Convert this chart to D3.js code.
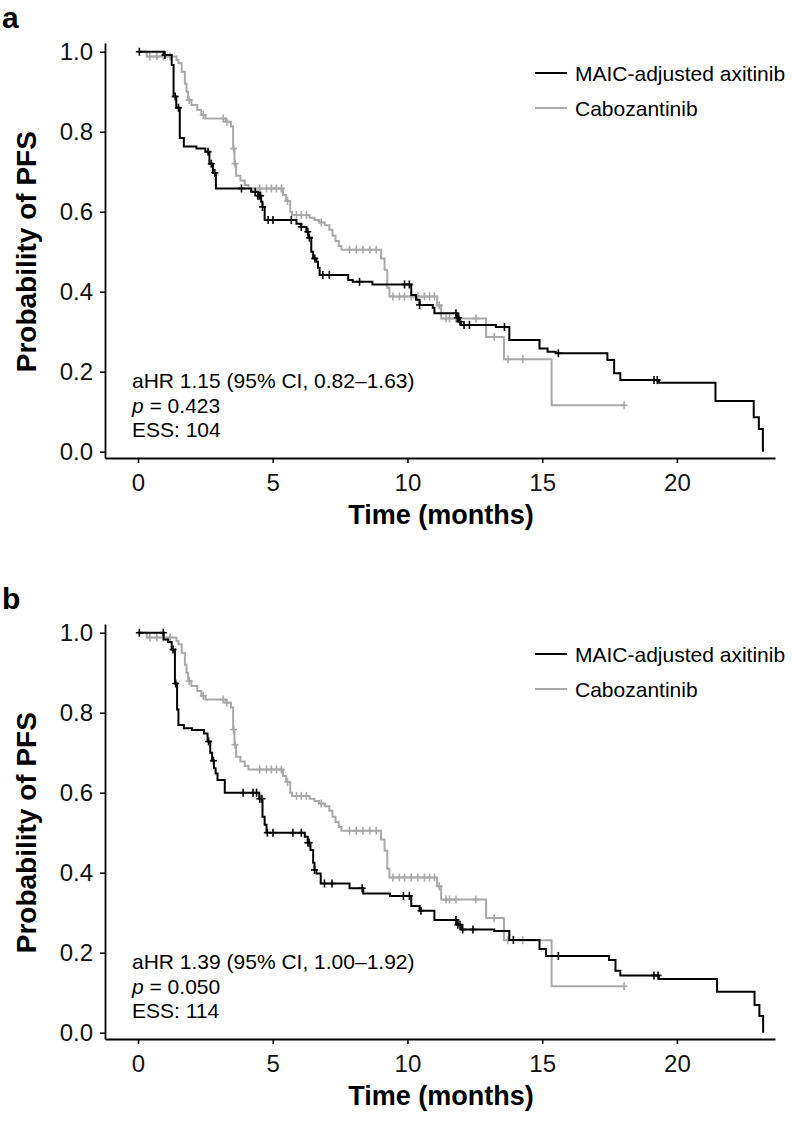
<!DOCTYPE html>
<html>
<head>
<meta charset="utf-8">
<script src="https://cdn.jsdelivr.net/npm/d3@7"></script>
<style>
  body { margin: 0; background: #fff; }
  svg { display: block; font-family: "Liberation Sans", Arial, Helvetica, sans-serif; }
</style>
</head>
<body>
<svg id="chart" width="792" height="1123"></svg>
<script>
// --- Data ---
// Kaplan-Meier steps: [time in months, survival after the step]
const caboSteps = [
  [0, 1.0], [0.32, 0.988], [1.43, 0.979], [1.5, 0.971], [1.62, 0.95], [1.74, 0.92],
  [1.8, 0.9], [1.86, 0.879], [1.98, 0.867], [2.2, 0.854], [2.35, 0.842], [2.5, 0.833],
  [3.25, 0.825], [3.45, 0.813], [3.53, 0.758], [3.58, 0.72], [3.64, 0.69], [3.8, 0.678],
  [3.96, 0.667], [4.1, 0.658], [5.38, 0.642], [5.5, 0.627], [5.65, 0.6], [5.72, 0.592],
  [6.37, 0.585], [6.55, 0.579], [6.72, 0.573], [6.93, 0.566], [7.1, 0.555], [7.22, 0.54],
  [7.33, 0.527], [7.45, 0.514], [7.55, 0.505], [9.02, 0.483], [9.15, 0.455], [9.25, 0.41],
  [9.33, 0.388], [11.1, 0.366], [11.25, 0.333], [12.92, 0.287], [13.58, 0.231], [15.35, 0.116]
];
const caboEnd = 18.04;
const caboCensor = [
  0.44, 0.7, 0.94, 1.19, 1.9, 2.42, 3.16, 3.3, 3.55, 3.6, 4.52, 4.77, 4.95, 5.14, 5.32,
  5.55, 5.88, 6.06, 6.25, 6.8, 7.85, 8.1, 8.35, 8.6, 8.84, 9.46, 9.7, 9.89, 10.14, 10.38,
  10.63, 10.82, 11.0, 11.18, 11.43, 11.56, 11.8, 12.54, 13.22, 13.73, 14.28, 18.04
];

// panel a: MAIC-adjusted axitinib
const axiStepsA = [
  [0, 1.0], [0.95, 0.992], [1.25, 0.967], [1.32, 0.888], [1.42, 0.86], [1.55, 0.784],
  [1.7, 0.763], [2.17, 0.758], [2.5, 0.75], [2.65, 0.72], [2.78, 0.697], [2.89, 0.658],
  [4.2, 0.65], [4.45, 0.64], [4.57, 0.625], [4.62, 0.612], [4.7, 0.579], [5.88, 0.57],
  [6.06, 0.562], [6.25, 0.55], [6.32, 0.535], [6.43, 0.5], [6.5, 0.483], [6.62, 0.475],
  [6.68, 0.46], [6.74, 0.442], [7.8, 0.429], [7.97, 0.425], [8.7, 0.418], [10.14, 0.392],
  [10.32, 0.38], [10.45, 0.367], [10.94, 0.36], [11.0, 0.346], [11.85, 0.335], [11.92, 0.325],
  [11.99, 0.317], [13.28, 0.312], [13.78, 0.279], [14.9, 0.258], [15.2, 0.25], [15.5, 0.246],
  [17.42, 0.229], [17.67, 0.196], [17.9, 0.179], [19.33, 0.1725], [21.43, 0.127],
  [22.85, 0.086], [23.04, 0.057], [23.19, 0]
];
const axiEndA = 23.19;
const axiCensorA = [
  0.05, 1.0, 1.38, 1.5, 2.6, 2.72, 2.85, 3.84, 4.35, 4.45, 4.5, 4.55, 4.62, 4.83, 5.01,
  5.69, 6.06, 6.3, 6.36, 6.56, 6.86, 7.1, 8.22, 9.89, 10.07, 10.45, 11.8, 11.85, 11.9,
  11.95, 12.1, 12.3, 13.6, 15.6, 19.15, 19.27
];

// panel b: MAIC-adjusted axitinib
const axiStepsB = [
  [0, 1.0], [0.95, 0.983], [1.12, 0.977], [1.25, 0.958], [1.37, 0.873], [1.45, 0.808],
  [1.5, 0.769], [1.7, 0.761], [2.0, 0.757], [2.45, 0.748], [2.58, 0.728], [2.68, 0.7],
  [2.75, 0.68], [2.82, 0.661], [2.88, 0.648], [2.95, 0.632], [3.22, 0.6], [4.5, 0.585],
  [4.62, 0.54], [4.7, 0.52], [4.77, 0.5], [6.19, 0.49], [6.3, 0.475], [6.4, 0.457],
  [6.5, 0.425], [6.55, 0.407], [6.62, 0.398], [6.78, 0.373], [7.85, 0.361], [8.36, 0.348],
  [9.35, 0.342], [10.14, 0.317], [10.45, 0.305], [11.0, 0.282], [11.85, 0.27], [12.0, 0.258],
  [13.22, 0.254], [13.78, 0.232], [14.9, 0.209], [15.14, 0.192], [17.48, 0.182],
  [17.72, 0.155], [17.9, 0.143], [19.33, 0.134], [21.49, 0.1025], [22.88, 0.069],
  [23.06, 0.042], [23.2, 0]
];
const axiEndB = 23.2;
const axiCensorB = [
  0.05, 0.94, 1.3, 1.4, 2.62, 2.8, 3.9, 4.27, 4.4, 4.52, 4.6, 4.8, 5.01, 5.75, 6.06,
  6.3, 6.35, 6.55, 6.92, 7.2, 8.32, 9.85, 10.07, 10.5, 11.8, 11.87, 11.95, 12.05, 12.43,
  13.93, 15.6, 19.15, 19.3
];

const monthTicks = [0, 5, 10, 15, 20];
const probTicks = [0.0, 0.2, 0.4, 0.6, 0.8, 1.0];
const seriesNames = ["MAIC-adjusted axitinib", "Cabozantinib"];
const seriesColors = ["#000000", "#a9a9a9"];

const statsA = ["aHR 1.15 (95% CI, 0.82\u20131.63)", "0.423", "ESS: 104"];
const statsB = ["aHR 1.39 (95% CI, 1.00\u20131.92)", "0.050", "ESS: 114"];

// --- Drawing ---
const svg = d3.select("#chart");

function survivalAt(steps, t) {
  let s = steps[0][1];
  for (const d of steps) {
    if (d[0] <= t) s = d[1];
    else break;
  }
  return s;
}

function drawPanel(offsetY, label, curves, stats) {
  const g = svg.append("g").attr("transform", `translate(0,${offsetY})`);

  const x = d3.scaleLinear().domain([-1.225, 23.64]).range([105, 775]);
  const y = d3.scaleLinear().domain([-0.0158, 1.0218]).range([458, 43]);

  // panel letter
  g.append("text")
    .attr("x", 2).attr("y", 28)
    .attr("font-size", 30).attr("font-weight", "bold")
    .text(label);

  // axes
  const xAxis = d3.axisBottom(x).tickValues(monthTicks).tickSize(5).tickSizeOuter(0).tickPadding(11);
  const yAxis = d3.axisLeft(y).tickValues(probTicks).tickSize(5).tickSizeOuter(0).tickPadding(7)
    .tickFormat(d3.format(".1f"));

  const xg = g.append("g").attr("transform", "translate(0,458)").call(xAxis);
  const yg = g.append("g").attr("transform", "translate(105,0)").call(yAxis);
  [xg, yg].forEach(a => {
    a.select(".domain").attr("stroke", "#000").attr("stroke-width", 1.8);
    a.selectAll(".tick line").attr("stroke", "#000").attr("stroke-width", 1.5);
    a.selectAll(".tick text").attr("font-size", 24).attr("fill", "#111")
      .attr("font-family", "'Liberation Sans', Arial, sans-serif");
  });

  // axis titles
  g.append("text")
    .attr("x", 441).attr("y", 524)
    .attr("text-anchor", "middle")
    .attr("font-size", 27).attr("font-weight", "bold")
    .text("Time (months)");
  g.append("text")
    .attr("transform", `translate(36,${y(0.5)}) rotate(-90)`)
    .attr("text-anchor", "middle")
    .attr("font-size", 28).attr("font-weight", "bold")
    .text("Probability of PFS");

  // curves (gray drawn first so black is on top)
  const line = d3.line().x(d => x(d[0])).y(d => y(d[1])).curve(d3.curveStepAfter);
  curves.slice().reverse().forEach(c => {
    const pts = c.steps.concat([[c.end, c.steps[c.steps.length - 1][1]]]);
    g.append("path")
      .datum(pts)
      .attr("fill", "none")
      .attr("stroke", c.color)
      .attr("stroke-width", 2)
      .attr("d", line);

    const marks = g.append("g")
      .attr("stroke", c.color)
      .attr("stroke-width", 1.6);
    c.censor.forEach(t => {
      const cx = x(t), cy = y(survivalAt(c.steps, t));
      marks.append("line").attr("x1", cx - 3.5).attr("x2", cx + 3.5).attr("y1", cy).attr("y2", cy);
      marks.append("line").attr("x1", cx).attr("x2", cx).attr("y1", cy - 4).attr("y2", cy + 4);
    });
  });

  // legend
  const lg = g.append("g");
  seriesNames.forEach((name, i) => {
    const ly = 73 + i * 35;
    lg.append("line")
      .attr("x1", 535).attr("x2", 567).attr("y1", ly).attr("y2", ly)
      .attr("stroke", seriesColors[i]).attr("stroke-width", 2);
    lg.append("text")
      .attr("x", 575).attr("y", ly + 7.5)
      .attr("font-size", 21)
      .text(name);
  });

  // stats annotation
  const ag = g.append("g").attr("font-size", 21);
  ag.append("text").attr("x", 132).attr("y", 388).text(stats[0]);
  const p = ag.append("text").attr("x", 132).attr("y", 413);
  p.append("tspan").attr("font-style", "italic").text("p");
  p.append("tspan").text(" = " + stats[1]);
  ag.append("text").attr("x", 132).attr("y", 437).text(stats[2]);
}

drawPanel(0, "a", [
  { steps: axiStepsA, end: axiEndA, censor: axiCensorA, color: seriesColors[0] },
  { steps: caboSteps, end: caboEnd, censor: caboCensor, color: seriesColors[1] }
], statsA);

drawPanel(581, "b", [
  { steps: axiStepsB, end: axiEndB, censor: axiCensorB, color: seriesColors[0] },
  { steps: caboSteps, end: caboEnd, censor: caboCensor, color: seriesColors[1] }
], statsB);
</script>
</body>
</html>
